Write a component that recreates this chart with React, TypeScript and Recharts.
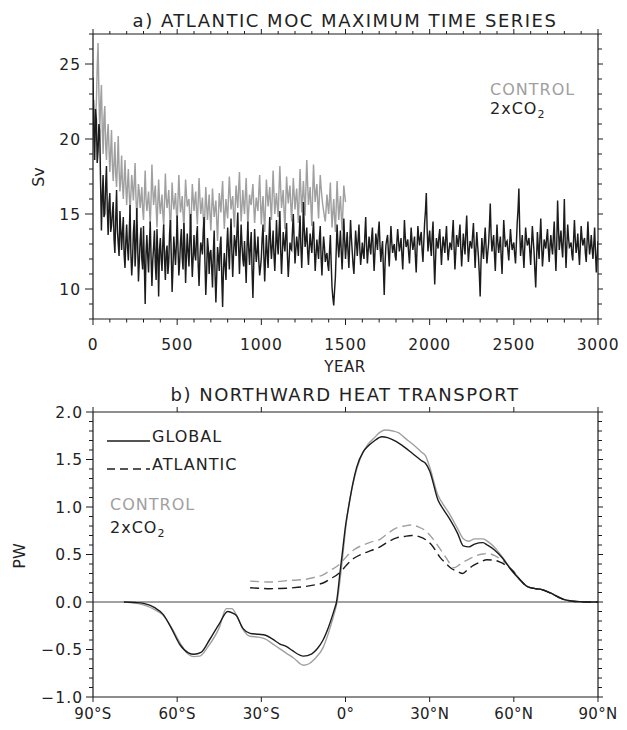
import React from 'react';
import { LineChart, Line, XAxis, YAxis, ReferenceLine } from 'recharts';

// ---------- Panel a: Atlantic MOC maximum (Sv), sampled every 5 years ----------
const YEAR_STEP = 5;
const MOC_2XCO2 = [
  24.1, 20.3, 18.6, 22.0, 21.3, 18.4, 19.2, 21.0, 20.5, 17.1, 13.9, 16.2, 17.6, 14.8, 15.0, 16.9, 18.2, 15.3, 13.6, 15.7,
  16.4, 13.8, 14.2, 15.1, 15.8, 13.3, 12.4, 14.7, 16.6, 13.9, 13.0, 12.2, 15.2, 14.0, 12.6, 13.8, 14.8, 12.3, 11.4, 13.2,
  14.3, 12.8, 11.9, 13.5, 15.6, 12.4, 10.9, 12.0, 13.8, 14.6, 11.5, 12.7, 15.4, 13.1, 10.5, 11.8, 13.2, 14.1, 12.0, 11.3,
  14.2, 11.6, 9.0, 12.4, 13.6, 12.2, 11.1, 13.0, 14.5, 12.1, 10.2, 11.9, 12.8, 13.9, 11.7, 10.6, 14.0, 12.3, 9.5, 12.6,
  13.4, 12.0, 11.2, 13.1, 14.3, 11.9, 10.6, 12.5, 12.9, 11.0, 11.8, 13.7, 14.6, 12.2, 9.8, 11.4, 13.5, 12.6, 11.6, 12.9,
  14.9, 12.7, 10.9, 11.8, 13.2, 14.0, 12.1, 11.3, 14.4, 13.0, 10.4, 12.2, 13.7, 12.5, 11.5, 13.3, 15.0, 12.4, 10.8, 12.1,
  13.6, 12.3, 11.9, 13.5, 14.2, 11.6, 10.2, 12.0, 13.1, 12.8, 12.3, 13.9, 14.8, 11.8, 9.6, 11.1, 13.4, 12.7, 11.0, 12.4,
  12.6, 11.4, 10.1, 12.5, 13.9, 11.0, 9.1, 10.9, 12.8, 12.1, 11.2, 12.9, 13.5, 10.7, 8.8, 11.3, 12.4, 11.5, 10.6, 12.8,
  14.1, 12.6, 11.3, 13.2, 14.7, 12.5, 10.8, 12.3, 13.6, 13.1, 12.2, 13.8, 15.1, 12.9, 11.0, 12.6, 14.3, 13.0, 12.0, 11.5,
  13.2, 11.9, 10.4, 12.8, 14.5, 12.7, 11.6, 12.9, 13.8, 11.2, 9.4, 11.7, 14.0, 12.8, 11.8, 12.5, 13.5, 11.9, 10.9, 11.4,
  12.1, 13.4, 14.3, 12.2, 10.5, 12.1, 13.6, 12.4, 11.4, 13.2, 14.8, 13.0, 12.0, 12.9, 13.9, 12.3, 11.2, 12.7, 14.6, 13.1,
  12.3, 13.8, 15.2, 12.6, 11.0, 12.4, 13.8, 13.1, 12.5, 13.6, 14.4, 12.2, 10.8, 11.9, 13.1, 12.7, 12.6, 13.9, 15.0, 13.2,
  11.7, 12.6, 13.5, 12.9, 12.2, 13.7, 14.9, 12.8, 11.4, 13.1, 15.8, 14.0, 12.8, 13.3, 14.1, 12.5, 11.6, 12.8, 13.7, 12.9,
  12.4, 13.6, 14.5, 12.7, 11.2, 12.3, 13.3, 12.6, 12.0, 13.4, 14.2, 12.1, 10.9, 12.4, 13.5, 12.8, 11.8, 12.2, 12.4, 11.6,
  11.2, 12.5, 13.6, 11.7, 10.1, 9.4, 8.9, 9.9, 10.8, 12.6, 14.3, 13.0, 12.1, 13.0, 13.9, 12.4, 11.3, 12.8, 14.7, 13.3,
  12.0, 12.9, 13.8, 12.5, 11.4, 13.0, 14.6, 13.4, 12.5, 11.6, 11.0, 12.4, 13.9, 13.1, 12.2, 13.3, 14.3, 12.7, 11.6, 12.3,
  13.1, 12.4, 12.0, 13.6, 14.8, 12.9, 11.7, 12.6, 13.5, 12.8, 12.3, 13.4, 14.1, 12.5, 11.2, 12.4, 13.7, 13.2, 12.6, 13.8,
  14.5, 12.9, 11.8, 12.6, 13.2, 11.4, 9.6, 11.7, 12.9, 13.3, 13.6, 12.4, 11.5, 12.9, 14.2, 13.1, 12.4, 12.8, 13.0, 12.2,
  11.9, 13.1, 14.0, 13.2, 12.5, 12.9, 13.4, 12.3, 11.3, 12.8, 14.6, 13.5, 12.8, 13.0, 13.3, 12.4, 11.7, 12.9, 14.1, 13.2,
  12.6, 13.0, 13.5, 12.2, 11.1, 12.7, 14.2, 13.4, 12.9, 13.5, 13.8, 12.6, 11.8, 13.1, 14.4, 15.2, 16.4, 14.0, 12.5, 13.3,
  13.9, 12.8, 12.2, 13.6, 14.5, 12.1, 10.3, 12.0, 13.4, 13.0, 12.7, 13.5, 14.0, 12.8, 11.6, 12.7, 13.5, 13.0, 12.4, 13.4,
  14.2, 12.8, 11.9, 12.6, 13.1, 12.9, 12.6, 13.7, 14.6, 12.8, 11.3, 12.4, 13.6, 13.2, 12.8, 13.6, 14.3, 12.7, 11.5, 12.6,
  13.7, 13.0, 12.3, 13.8, 14.9, 13.1, 11.8, 12.6, 13.2, 13.0, 12.7, 13.6, 14.4, 12.8, 11.4, 12.7, 13.8, 12.9, 12.1, 11.0,
  9.5, 11.8, 13.4, 12.6, 12.0, 13.2, 14.1, 12.8, 11.7, 12.4, 13.0, 14.2, 15.7, 13.6, 12.5, 13.1, 13.6, 12.3, 11.2, 12.9,
  14.3, 13.1, 12.4, 13.0, 13.5, 12.1, 11.0, 12.8, 14.6, 13.6, 12.8, 13.1, 13.2, 12.5, 11.9, 13.0, 14.0, 13.2, 12.6, 12.9,
  13.1, 12.3, 11.7, 13.0, 14.4, 15.3, 16.7, 13.9, 12.2, 12.9, 13.6, 12.4, 11.4, 12.8, 14.1, 13.4, 12.9, 13.1, 13.4, 12.5,
  11.6, 12.9, 14.2, 13.3, 12.5, 11.2, 10.1, 12.0, 13.8, 12.8, 12.0, 13.4, 14.7, 13.0, 11.5, 12.3, 13.3, 13.0, 12.7, 13.4,
  14.0, 12.7, 11.8, 12.9, 13.6, 12.8, 12.3, 13.5, 14.5, 12.6, 11.2, 13.0, 15.9, 14.1, 12.6, 13.3, 13.9, 12.8, 12.1, 13.6,
  16.0, 13.2, 11.4, 12.9, 14.3, 13.4, 12.8, 12.9, 13.1, 12.3, 11.9, 13.3, 14.6, 13.3, 12.4, 12.9, 13.7, 12.5, 11.6, 12.9,
  14.2, 13.4, 12.9, 13.2, 13.4, 12.4, 11.8, 13.1, 14.5, 13.2, 12.3, 12.8, 13.6, 12.7, 12.0, 13.0, 14.1, 12.4, 11.1, 12.2,
  13.2,
];
const MOC_CONTROL = [
  21.0, 22.6, 19.8, 21.5, 22.4, 24.8, 26.4, 23.1, 20.5, 22.3, 23.6, 20.7, 19.0, 21.4, 22.2, 19.6, 18.6, 20.2, 21.0, 19.4,
  17.8, 19.2, 20.6, 18.3, 17.2, 18.5, 19.8, 17.6, 16.8, 18.4, 20.2, 17.9, 16.5, 17.4, 18.9, 17.0, 16.0, 17.3, 18.6, 16.9,
  15.6, 16.9, 18.0, 16.4, 15.2, 16.3, 17.6, 16.8, 15.9, 17.1, 18.4, 16.2, 14.8, 15.7, 17.0, 16.5, 15.4, 16.0, 16.8, 15.3,
  14.6, 16.2, 17.9, 16.0, 15.2, 15.8, 16.5, 15.4, 14.3, 16.0, 18.3, 16.7, 15.6, 16.3, 16.9, 15.5, 14.1, 15.7, 17.3, 15.8,
  15.0, 15.7, 16.3, 15.0, 14.2, 15.8, 17.7, 16.1, 15.4, 15.9, 16.6, 15.1, 13.9, 15.4, 17.1, 16.0, 15.3, 15.8, 16.4, 15.2,
  14.4, 16.0, 17.6, 16.2, 15.1, 15.6, 16.2, 15.0, 14.0, 15.7, 17.3, 16.3, 15.5, 15.8, 16.0, 14.7, 13.8, 15.3, 17.0, 16.1,
  15.2, 15.9, 16.5, 15.2, 14.3, 15.9, 17.4, 16.1, 15.0, 15.5, 16.1, 14.8, 13.6, 15.2, 16.8, 15.6, 14.6, 15.4, 16.3, 15.0,
  13.9, 15.3, 16.7, 15.6, 14.8, 15.4, 15.9, 14.5, 13.2, 14.9, 16.4, 15.7, 15.1, 16.3, 17.2, 15.5, 14.0, 15.1, 16.0, 15.2,
  14.7, 16.2, 17.5, 16.3, 15.3, 15.8, 16.2, 15.0, 14.1, 15.6, 16.9, 16.0, 15.4, 16.7, 17.8, 16.0, 14.5, 15.5, 16.6, 15.7,
  15.0, 16.3, 17.4, 15.7, 14.2, 15.3, 16.3, 15.8, 15.6, 16.4, 17.0, 15.6, 14.4, 15.3, 16.1, 15.6, 15.2, 16.5, 17.6, 15.9,
  14.3, 15.4, 16.2, 14.9, 13.8, 15.6, 17.3, 16.3, 15.5, 16.2, 16.8, 15.5, 14.6, 16.3, 17.9, 16.4, 15.0, 15.8, 16.4, 15.5,
  14.8, 16.6, 18.2, 16.7, 15.4, 16.0, 16.6, 15.2, 14.0, 15.8, 17.5, 16.5, 15.7, 16.4, 16.9, 15.6, 14.5, 16.0, 17.4, 16.3,
  15.3, 16.1, 16.7, 15.5, 14.4, 16.3, 18.0, 16.4, 15.1, 16.2, 17.2, 16.0, 14.9, 16.8, 18.6, 17.0, 15.6, 16.2, 16.8, 15.4,
  14.2, 16.4, 18.3, 16.9, 15.8, 16.5, 17.0, 15.8, 14.7, 16.2, 17.6, 16.8, 16.1, 15.6, 15.2, 14.8, 14.5, 15.4, 16.3, 15.6,
  15.0, 16.0, 17.1, 15.4, 14.1, 15.1, 16.0, 14.8, 13.8, 15.5, 17.2, 15.8, 14.6, 15.5, 16.2, 14.9, 13.9, 15.4, 16.9, 16.3,
  15.8,
];
const YEAR_TICKS = [0, 100, 200, 300, 400, 500, 600, 700, 800, 900, 1000, 1100, 1200, 1300, 1400, 1500, 1600, 1700, 1800, 1900, 2000, 2100, 2200, 2300, 2400, 2500, 2600, 2700, 2800, 2900, 3000];
const SV_TICKS = [8, 9, 10, 11, 12, 13, 14, 15, 16, 17, 18, 19, 20, 21, 22, 23, 24, 25, 26, 27];

// ---------- Panel b: Northward heat transport (PW) ----------
const LAT_GLOBAL_2XCO2 = [-79, -75, -72, -68, -65, -62, -59, -56, -54, -51.5, -48.5, -45, -42, -40, -39, -36.5, -34, -31, -28.5, -26, -23.5, -21, -19, -15, -12, -10, -8, -6, -4, -3.2, -2, -1, 0, 1, 2.7, 4, 6.3, 8, 10, 13, 15, 18, 21, 24, 27, 28.5, 30, 33, 35, 37, 40, 42, 44, 46, 49, 50.5, 53, 56, 59, 62, 65, 68, 70, 73, 76, 78, 81, 84, 87, 90];
const PW_GLOBAL_2XCO2 = [0, -0.005, -0.015, -0.06, -0.13, -0.28, -0.45, -0.535, -0.55, -0.53, -0.4, -0.23, -0.1, -0.12, -0.14, -0.28, -0.33, -0.34, -0.35, -0.39, -0.44, -0.47, -0.51, -0.57, -0.545, -0.49, -0.4, -0.26, -0.08, 0, 0.3, 0.55, 0.8, 0.98, 1.26, 1.42, 1.58, 1.64, 1.69, 1.74, 1.73, 1.69, 1.63, 1.56, 1.49, 1.46, 1.38, 1.07, 0.97, 0.88, 0.72, 0.59, 0.58, 0.61, 0.625, 0.6, 0.55, 0.46, 0.34, 0.24, 0.16, 0.14, 0.13, 0.095, 0.05, 0.025, 0.008, 0.002, 0, 0];
const LAT_GLOBAL_CONTROL = [-79, -75, -72, -68, -65, -62, -59, -56, -54, -52, -49, -45, -42.5, -40.5, -39, -36.5, -34, -31, -28.5, -26, -23.5, -21, -18.5, -15, -13, -11, -8, -6, -4, -3, -2, -1, 0, 1, 2.5, 4, 6, 8, 10, 12, 14, 17, 19, 21, 24, 27, 28.5, 30, 33, 35, 37, 40, 42, 44, 46, 49, 51, 53, 56, 59, 62, 65, 68, 70, 73, 76, 78, 81, 84, 87, 90];
const PW_GLOBAL_CONTROL = [0, -0.01, -0.03, -0.08, -0.14, -0.27, -0.43, -0.55, -0.575, -0.57, -0.47, -0.27, -0.07, -0.07, -0.13, -0.29, -0.36, -0.37, -0.39, -0.44, -0.49, -0.54, -0.59, -0.665, -0.65, -0.6, -0.48, -0.32, -0.12, 0, 0.22, 0.48, 0.76, 0.99, 1.22, 1.4, 1.56, 1.66, 1.72, 1.78, 1.81, 1.8, 1.78, 1.73, 1.66, 1.58, 1.54, 1.42, 1.12, 1.02, 0.93, 0.77, 0.665, 0.64, 0.665, 0.665, 0.63, 0.58, 0.47, 0.345, 0.245, 0.16, 0.14, 0.13, 0.095, 0.05, 0.025, 0.008, 0.002, 0, 0];
const LAT_ATL_2XCO2 = [-34, -31, -27, -24, -21, -17, -14, -11, -8, -5.6, -2, 0.4, 3, 6.3, 9, 12.3, 15, 18.2, 21, 23.6, 26, 28.9, 31, 33.7, 36, 37.9, 40, 41.8, 43.5, 45.6, 48, 50.4, 53, 55.1, 57, 59.3, 62, 65, 68, 70, 73, 76, 78, 81, 84, 87, 90];
const PW_ATL_2XCO2 = [0.15, 0.145, 0.14, 0.142, 0.145, 0.155, 0.165, 0.18, 0.2, 0.24, 0.31, 0.39, 0.46, 0.51, 0.54, 0.58, 0.63, 0.675, 0.69, 0.7, 0.69, 0.65, 0.59, 0.47, 0.4, 0.35, 0.32, 0.3, 0.34, 0.385, 0.42, 0.445, 0.44, 0.42, 0.39, 0.34, 0.24, 0.16, 0.14, 0.13, 0.095, 0.05, 0.025, 0.008, 0.002, 0, 0];
const LAT_ATL_CONTROL = [-34, -31, -27, -24, -21, -17, -14, -11, -8, -5.6, -2, 0.4, 3, 6.3, 9, 12.3, 15, 18.2, 21, 23.6, 26, 28.3, 31, 33.7, 36, 38.6, 40.5, 42, 44.5, 46.8, 49, 51, 53, 55, 57, 59.3, 62, 65, 68, 70, 73, 76, 78, 81, 84, 87, 90];
const PW_ATL_CONTROL = [0.22, 0.215, 0.21, 0.215, 0.225, 0.232, 0.24, 0.26, 0.285, 0.33, 0.4, 0.48, 0.55, 0.6, 0.63, 0.66, 0.72, 0.78, 0.8, 0.81, 0.79, 0.755, 0.67, 0.56, 0.46, 0.36, 0.39, 0.42, 0.46, 0.49, 0.505, 0.51, 0.49, 0.457, 0.41, 0.345, 0.245, 0.16, 0.14, 0.13, 0.095, 0.05, 0.025, 0.008, 0.002, 0, 0];
const LAT_TICKS = [-90, -60, -30, 0, 30, 60, 90];
const LAT_LABELS = ['90°S', '60°S', '30°S', '0°', '30°N', '60°N', '90°N'];
const PW_TICKS = [-1, -0.9, -0.8, -0.7, -0.6, -0.5, -0.4, -0.3, -0.2, -0.1, 0, 0.1, 0.2, 0.3, 0.4, 0.5, 0.6, 0.7, 0.8, 0.9, 1, 1.1, 1.2, 1.3, 1.4, 1.5, 1.6, 1.7, 1.8, 1.9, 2];

// ---------- styling ----------
const FONT = "'DejaVu Sans', sans-serif";
const INK = '#1c1c1c';
const GREY = '#a0a0a0';
const TEXT = '#222';

const co2Series = MOC_2XCO2.map((v, i) => ({ year: i * YEAR_STEP, sv: v }));
const ctlSeries = MOC_CONTROL.map((v, i) => ({ year: i * YEAR_STEP, sv: v }));
const zip = (lats: number[], vals: number[]) => lats.map((l, i) => ({ lat: l, pw: vals[i] }));

type Side = 'left' | 'right' | 'top' | 'bottom';
interface TickCfg {
  side: Side;
  isMajor: (v: number) => boolean;
  majorLen: number;
  minorLen: number;
  label?: (v: number) => string | null;
  offset?: number;
  fontSize?: number;
  spacing?: number;
}

function makeTick(cfg: TickCfg) {
  return (props: any) => {
    const { x, y, payload } = props;
    const v = payload.value as number;
    const major = cfg.isMajor(v);
    const len = major ? cfg.majorLen : cfg.minorLen;
    const lbl = major && cfg.label ? cfg.label(v) : null;
    const fs = cfg.fontSize || 16;
    const off = cfg.offset || 0;
    let ln: any = null;
    let tx: any = null;
    if (cfg.side === 'left') {
      ln = <line x1={x} x2={x - len} y1={y} y2={y} stroke={INK} strokeWidth={1} />;
      if (lbl !== null) tx = <text x={x - off} y={y} dy="0.36em" textAnchor="end" fontSize={fs} fontFamily={FONT} fill={TEXT} letterSpacing={cfg.spacing || 0}>{lbl}</text>;
    } else if (cfg.side === 'right') {
      ln = <line x1={x} x2={x + len} y1={y} y2={y} stroke={INK} strokeWidth={1} />;
    } else if (cfg.side === 'top') {
      ln = <line x1={x} x2={x} y1={y} y2={y - len} stroke={INK} strokeWidth={1} />;
    } else {
      ln = <line x1={x} x2={x} y1={y} y2={y + len} stroke={INK} strokeWidth={1} />;
      if (lbl !== null) tx = <text x={x} y={y + off} textAnchor="middle" fontSize={fs} fontFamily={FONT} fill={TEXT} letterSpacing={cfg.spacing || 0}>{lbl}</text>;
    }
    return <g>{ln}{tx}</g>;
  };
}

const mult = (v: number, m: number) => Math.abs(v / m - Math.round(v / m)) < 1e-6;
const fmtPW = (v: number) => (v < 0 ? '\u2212' : '') + Math.abs(v).toFixed(1);

const axisLine = { stroke: INK, strokeWidth: 1.2 };

export default function App() {
  return (
    <div style={{ position: 'absolute', left: 0, top: 0, width: 627, height: 730, background: '#fff' }}>
      {/* Panel a */}
      <div style={{ position: 'absolute', left: 0, top: 0 }}>
        <LineChart width={627} height={380} margin={{ top: 0, right: 0, bottom: 0, left: 0 }}>
          <XAxis xAxisId="b" type="number" dataKey="year" domain={[0, 3000]} ticks={YEAR_TICKS} interval={0} orientation="bottom" height={61} tickSize={0} tickMargin={0} tickLine={false} axisLine={axisLine} allowDataOverflow
            tick={makeTick({ side: 'bottom', isMajor: (v) => mult(v, 500), majorLen: 6, minorLen: 3.5, label: (v) => String(v), offset: 31, fontSize: 15.5, spacing: 0.8 })} />
          <XAxis xAxisId="t" type="number" dataKey="year" domain={[0, 3000]} ticks={YEAR_TICKS} interval={0} orientation="top" height={34} tickSize={0} tickMargin={0} tickLine={false} axisLine={axisLine} allowDataOverflow
            tick={makeTick({ side: 'top', isMajor: (v) => mult(v, 500), majorLen: 5, minorLen: 3 })} />
          <YAxis yAxisId="l" type="number" domain={[8, 27]} ticks={SV_TICKS} interval={0} orientation="left" width={93} tickSize={0} tickMargin={0} tickLine={false} axisLine={axisLine} allowDataOverflow
            tick={makeTick({ side: 'left', isMajor: (v) => mult(v, 5), majorLen: 8, minorLen: 4, label: (v) => String(v), offset: 12, fontSize: 15.5, spacing: 1 })} />
          <YAxis yAxisId="r" type="number" domain={[8, 27]} ticks={SV_TICKS} interval={0} orientation="right" width={29} tickSize={0} tickMargin={0} tickLine={false} axisLine={axisLine} allowDataOverflow
            tick={makeTick({ side: 'right', isMajor: (v) => mult(v, 5), majorLen: 5, minorLen: 4 })} />
          <Line data={ctlSeries} xAxisId="b" yAxisId="l" dataKey="sv" type="linear" stroke={GREY} strokeWidth={1.45} dot={false} isAnimationActive={false} />
          <Line data={co2Series} xAxisId="t" yAxisId="r" dataKey="sv" type="linear" stroke={INK} strokeWidth={1.45} dot={false} isAnimationActive={false} />
        </LineChart>
      </div>

      {/* Panel b */}
      <div style={{ position: 'absolute', left: 0, top: 380 }}>
        <LineChart width={627} height={350} margin={{ top: 0, right: 0, bottom: 0, left: 0 }}>
          <XAxis xAxisId="b" type="number" dataKey="lat" domain={[-90, 90]} ticks={LAT_TICKS} interval={0} orientation="bottom" height={33} tickSize={0} tickMargin={0} tickLine={false} axisLine={axisLine} allowDataOverflow
            tick={makeTick({ side: 'bottom', isMajor: () => true, majorLen: 5, minorLen: 5, label: (v) => LAT_LABELS[LAT_TICKS.indexOf(v)], offset: 22, fontSize: 15, spacing: 0.3 })} />
          <XAxis xAxisId="t" type="number" dataKey="lat" domain={[-90, 90]} ticks={LAT_TICKS} interval={0} orientation="top" height={32} tickSize={0} tickMargin={0} tickLine={false} axisLine={axisLine} allowDataOverflow
            tick={makeTick({ side: 'top', isMajor: () => true, majorLen: 5, minorLen: 5 })} />
          <YAxis yAxisId="l" type="number" domain={[-1, 2]} ticks={PW_TICKS} interval={0} orientation="left" width={93} tickSize={0} tickMargin={0} tickLine={false} axisLine={axisLine} allowDataOverflow
            tick={makeTick({ side: 'left', isMajor: (v) => mult(v, 0.5), majorLen: 7, minorLen: 4, label: fmtPW, offset: 10, fontSize: 15.5, spacing: 1 })} />
          <YAxis yAxisId="r" type="number" domain={[-1, 2]} ticks={PW_TICKS} interval={0} orientation="right" width={29} tickSize={0} tickMargin={0} tickLine={false} axisLine={axisLine} allowDataOverflow
            tick={makeTick({ side: 'right', isMajor: (v) => mult(v, 0.5), majorLen: 5, minorLen: 4 })} />
          <ReferenceLine xAxisId="b" yAxisId="l" y={0} stroke="#444" strokeWidth={1.2} />
          <Line data={zip(LAT_GLOBAL_CONTROL, PW_GLOBAL_CONTROL)} xAxisId="b" yAxisId="l" dataKey="pw" type="monotone" stroke={GREY} strokeWidth={1.4} dot={false} isAnimationActive={false} />
          <Line data={zip(LAT_ATL_CONTROL, PW_ATL_CONTROL)} xAxisId="b" yAxisId="l" dataKey="pw" type="monotone" stroke={GREY} strokeWidth={1.4} strokeDasharray="9 5" dot={false} isAnimationActive={false} />
          <Line data={zip(LAT_GLOBAL_2XCO2, PW_GLOBAL_2XCO2)} xAxisId="t" yAxisId="r" dataKey="pw" type="monotone" stroke={INK} strokeWidth={1.4} dot={false} isAnimationActive={false} />
          <Line data={zip(LAT_ATL_2XCO2, PW_ATL_2XCO2)} xAxisId="t" yAxisId="r" dataKey="pw" type="monotone" stroke={INK} strokeWidth={1.4} strokeDasharray="9 5" dot={false} isAnimationActive={false} />
        </LineChart>
      </div>

      {/* Titles, axis names and legends */}
      <svg width={627} height={730} style={{ position: 'absolute', left: 0, top: 0, pointerEvents: 'none' }} fontFamily={FONT}>
        <text x={345} y={27} textAnchor="middle" fontSize={18} letterSpacing={1.5} fill={TEXT}>a) ATLANTIC MOC MAXIMUM TIME SERIES</text>
        <text x={345} y={401} textAnchor="middle" fontSize={18} letterSpacing={1.5} fill={TEXT}>b) NORTHWARD HEAT TRANSPORT</text>
        <text x={345} y={372} textAnchor="middle" fontSize={15} letterSpacing={0.5} fill={TEXT}>YEAR</text>
        <text transform="translate(44,177) rotate(-90)" textAnchor="middle" fontSize={16} fill={TEXT}>Sv</text>
        <text transform="translate(25,556) rotate(-90)" textAnchor="middle" fontSize={16} fill={TEXT}>PW</text>

        <text x={490} y={95} fontSize={16} letterSpacing={1} fill={GREY}>CONTROL</text>
        <text x={490} y={114} fontSize={16} letterSpacing={1} fill={TEXT}>2xCO<tspan fontSize={11} dy={4}>2</tspan></text>

        <line x1={107} x2={150} y1={441} y2={441} stroke={INK} strokeWidth={1.4} />
        <text x={152} y={442} fontSize={16} letterSpacing={1} fill={TEXT}>GLOBAL</text>
        <line x1={107} x2={150} y1={469} y2={469} stroke={INK} strokeWidth={1.4} strokeDasharray="8 5" />
        <text x={152} y={470} fontSize={16} letterSpacing={1} fill={TEXT}>ATLANTIC</text>
        <text x={110} y={510} fontSize={16} letterSpacing={1} fill={GREY}>CONTROL</text>
        <text x={110} y={533} fontSize={16} letterSpacing={1} fill={TEXT}>2xCO<tspan fontSize={11} dy={4}>2</tspan></text>
      </svg>
    </div>
  );
}
